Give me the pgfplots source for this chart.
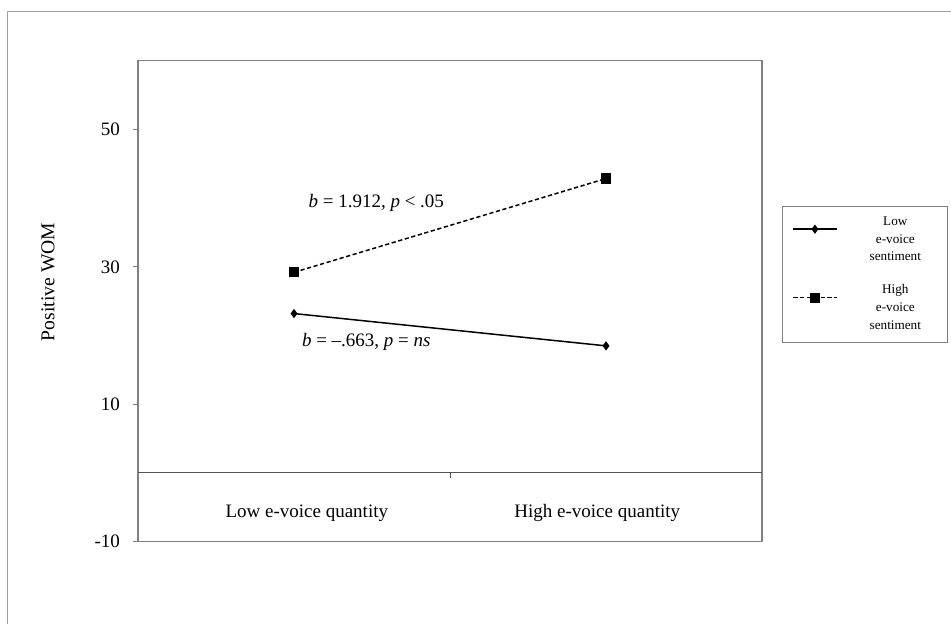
\documentclass[border=0pt]{standalone}
\usepackage{fontspec}
\setmainfont{Liberation Serif}
\usepackage{pgfplots}
\pgfplotsset{compat=1.18}
\definecolor{boxgray}{HTML}{808080}
\definecolor{zerogray}{HTML}{555555}
\definecolor{framegray}{HTML}{A0A0A0}
\begin{document}
\begin{tikzpicture}[font=\fontsize{9.5}{11}\selectfont]
% outer frame (left and top edges visible)
\draw[framegray, line width=0.7pt] (3.65pt,-312pt) -- (3.65pt,-5.85pt) -- (475.5pt,-5.85pt);
\begin{axis}[
  at={(69pt,-30.35pt)}, anchor=north west,
  scale only axis, width=312pt, height=240.5pt,
  xmin=0.5, xmax=2.5, ymin=-10, ymax=60,
  axis line style={boxgray, line width=0.8pt},
  xtick=\empty,
  ytick={-10,10,30,50},
  ytick pos=left, tick align=outside,
  major tick length=2.5pt,
  tick style={boxgray, line width=0.5pt},
  /pgf/number format/assume math mode=true,
  yticklabel style={font=\fontsize{9.5}{11}\selectfont, xshift=-3pt},
  clip=false,
  legend style={at={(axis description cs:1.032,0.698)}, anchor=north west,
    draw=boxgray, line width=0.6pt, font=\fontsize{6.6}{8.9}\selectfont,
    row sep=6.5pt, inner xsep=5pt, inner ysep=3pt},
  legend image code/.code={%
    \draw[mark repeat=2,mark phase=2,#1] plot coordinates {(0cm,5.5pt) (0.38cm,5.5pt) (0.76cm,5.5pt)};},
]
\draw[zerogray, line width=0.5pt] (axis cs:0.5,0) -- (axis cs:2.5,0);
\draw[zerogray, line width=0.4pt] (axis cs:1.5,0) -- ([yshift=-2.5pt]axis cs:1.5,0);
\addplot[black, line width=0.75pt, mark=diamond*, mark size=1.7pt, mark options={solid}]
  coordinates {(1,23.2) (2,18.5)};
\addlegendentry{\hspace*{8pt}\parbox[b]{38pt}{\centering Low\\e-voice\\sentiment}}
\addplot[black, line width=0.75pt, dash pattern=on 2.1pt off 1.3pt, mark=square*, mark size=2.2pt, mark options={solid}]
  coordinates {(1,29.2) (2,42.85)};
\addlegendentry{\hspace*{8pt}\parbox[b]{38pt}{\centering High\\e-voice\\sentiment}}
\node[anchor=west] at (axis cs:1.024,39.3) {\textit{b} = 1.912, \textit{p} < .05};
\node[anchor=west] at (axis cs:1.003,19.1) {\textit{b} = –.663, \textit{p} = \textit{ns}};
\node at (axis cs:1.041,-5.87) {Low e-voice quantity};
\node at (axis cs:1.972,-5.87) {High e-voice quantity};
\end{axis}
\node[rotate=90] at (24pt,-141pt) {\fontsize{9.8}{11}\selectfont Positive WOM};
\pgfresetboundingbox
\useasboundingbox (0,0) rectangle (475.5pt,-312pt);
\end{tikzpicture}
\end{document}
